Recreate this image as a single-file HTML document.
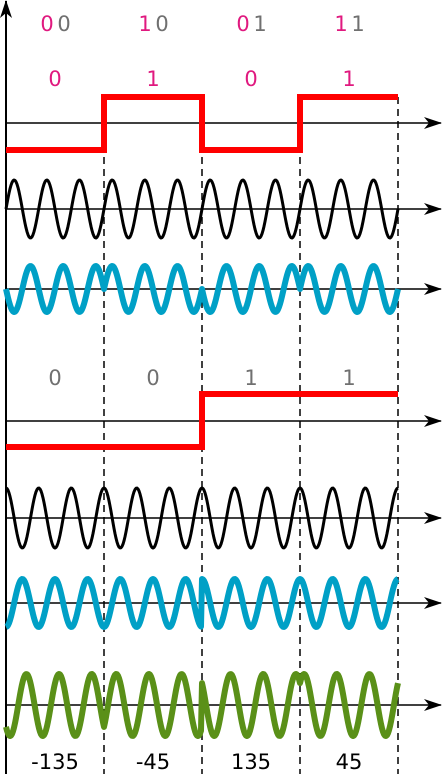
<!DOCTYPE html>
<html><head><meta charset="utf-8"><style>
html,body{margin:0;padding:0;background:#fff;}
svg{display:block;}
svg text{font-family:"DejaVu Sans","Liberation Sans",sans-serif;font-size:21px;}
</style></head><body>
<svg id="c" width="447" height="774" viewBox="0 0 447 774" xmlns="http://www.w3.org/2000/svg">
<defs><marker id="ar" markerWidth="18" markerHeight="12" refX="17" refY="6" orient="auto" markerUnits="userSpaceOnUse"><path d="M0,0 L18,6 L0,12 L5,6 Z" fill="#000"/></marker></defs>
</svg>
<script>
const pairLabels = [["0","0"],["1","0"],["0","1"],["1","1"]];
const iBits = [0,1,0,1];
const qBits = [0,0,1,1];
const phaseLabels = ["-135","-45","135","45"];
const periodsPerSymbol = 3;

const svg = document.getElementById('c');
const NS = 'http://www.w3.org/2000/svg';
const x0 = 6, symW = 98;
const xOf = i => x0 + i*symW;
function el(tag, attrs, parent){const e=document.createElementNS(NS,tag);for(const k in attrs)e.setAttribute(k,attrs[k]);(parent||svg).appendChild(e);return e;}

let va = el('line',{x1:x0,y1:774,x2:x0,y2:1,stroke:'#000','stroke-width':2,'marker-end':'url(#ar)'});



for(let i=1;i<=iBits.length;i++){
  const d=el('line',{x1:xOf(i),y1:97,x2:xOf(i),y2:774,stroke:'#000','stroke-width':1.5,'stroke-dasharray':'7,5'});
  
  
}

function axis(y,name){
  const a=el('line',{x1:x0,y1:y,x2:441,y2:y,stroke:'#000','stroke-width':1.5,'marker-end':'url(#ar)'});
  
  
}
function text(x,y,s,fill,name){
  const t=el('text',{x:x,y:y,'text-anchor':'middle',fill:fill,style:'font-size:21px'});
  t.textContent=s;
  
  
  return t;
}
function square(bits,yAxis,hi,lo,name){
  let d='';
  bits.forEach((b,i)=>{const y=b?hi:lo;d+=(i===0?'M':'L')+xOf(i)+','+y+' L'+xOf(i+1)+','+y+' ';});
  const p=el('path',{d:d,fill:'none',stroke:'#f00','stroke-width':6});
  
  
}
function wave(fn,yAxis,amp,color,w,name){
  let d='';
  const N=iBits.length*symW;
  for(let k=0;k<=N;k++){
    const x=x0+k;const v=fn(k);
    d+=(k?'L':'M')+x.toFixed(1)+','+(yAxis-amp*v).toFixed(2);
  }
  const p=el('path',{d:d,fill:'none',stroke:color,'stroke-width':w,'stroke-linejoin':'round'});
  
  
}
const w = 2*Math.PI*periodsPerSymbol/symW;
const sym = k => Math.min(iBits.length-1,Math.floor(k/symW));

pairLabels.forEach((p,i)=>{
  const cx=xOf(i)+symW/2;
  text(cx-8,31,p[0],'#e0197f','pair-label-bit1');
  text(cx+9,31,p[1],'#707070','pair-label-bit2');
  text(cx,86,String(iBits[i]),'#e0197f','i-bit-label');
});
axis(123,'i-data-axis');
square(iBits,123,97,150,'i-data-signal');
axis(209,'i-carrier-axis');
wave(k=>Math.sin(w*k),209,29,'#000',3,'i-carrier-wave');
axis(289,'i-modulated-axis');
wave(k=>(iBits[sym(k)]?1:-1)*Math.sin(w*k),289,23,'#00a0c6',6,'i-modulated-wave');

qBits.forEach((b,i)=>text(xOf(i)+symW/2,385,String(b),'#707070','q-bit-label'));
axis(421,'q-data-axis');
square(qBits,421,394,447,'q-data-signal');
axis(518,'q-carrier-axis');
wave(k=>Math.cos(w*k),518,30,'#000',3,'q-carrier-wave');
axis(603,'q-modulated-axis');
wave(k=>(qBits[sym(k)]?1:-1)*Math.cos(w*k),603,24,'#00a0c6',6,'q-modulated-wave');

axis(705,'qpsk-axis');
wave(k=>((iBits[sym(k)]?1:-1)*Math.sin(w*k)+(qBits[sym(k)]?1:-1)*Math.cos(w*k))/Math.SQRT2,705,31,'#5a9018',6,'qpsk-wave');

phaseLabels.forEach((s,i)=>text(xOf(i)+symW/2,769,s,'#000','phase-label'));
</script>
</body></html>
